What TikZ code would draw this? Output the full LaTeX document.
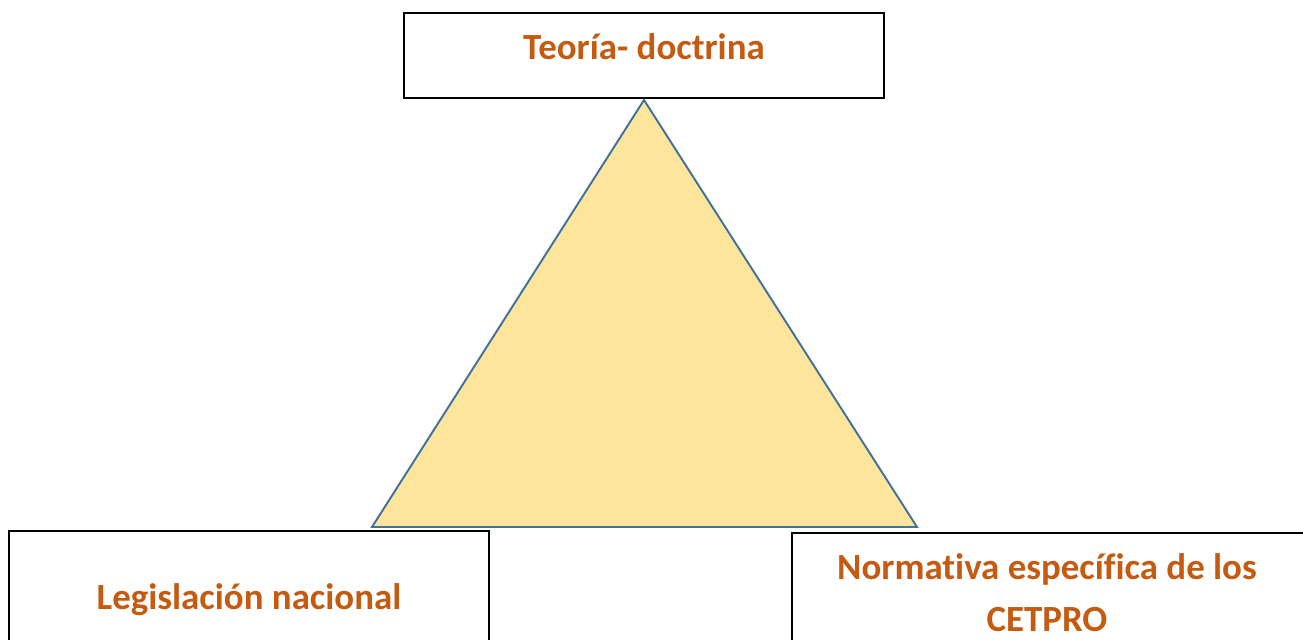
\documentclass[tikz,border=0pt]{standalone}
\usepackage{fontspec}
\setmainfont{Carlito}[Ligatures=NoCommon]
\definecolor{txtorange}{HTML}{C55A11}
\definecolor{trifill}{HTML}{FDE59B}
\definecolor{triline}{HTML}{41719C}
\tikzset{
  box/.style={draw=black, line width=1.2pt, fill=white, minimum width=9.6cm, inner sep=0pt},
  lbl/.style={text=txtorange, font=\fontsize{21}{29.5}\selectfont\bfseries, align=center},
}
\begin{document}
\begin{tikzpicture}
      \clip (0,0) rectangle (26.06,12.78);
      \fill[white] (0,0) rectangle (26.06,12.78);
      \coordinate (apex) at (12.88,10.78);
      \coordinate (baseL) at (7.44,2.24);
      \coordinate (baseR) at (18.34,2.24);
      \draw[fill=trifill, draw=triline, line width=1.1pt, line join=miter]
        (apex) -- (baseL) -- (baseR) -- cycle;
      \node[box, minimum height=1.7cm] (teoria) at (12.88,11.67) {};
      \node[box, minimum height=2.8cm] (legis) at (4.98,0.76) {};
      \node[box, minimum width=10.8cm, minimum height=2.8cm] (norma) at (21.24,0.72) {};
      \node[lbl] (teoriatxt) at ([yshift=0.17cm]teoria.center) {Teoría- doctrina};
      \node[lbl] (legistxt) at (4.98,0.78) {Legislación nacional};
      \node[lbl] (normatxt) at (20.94,0.92) {Normativa específica de los\\CETPRO};
    \end{tikzpicture}
\end{document}
